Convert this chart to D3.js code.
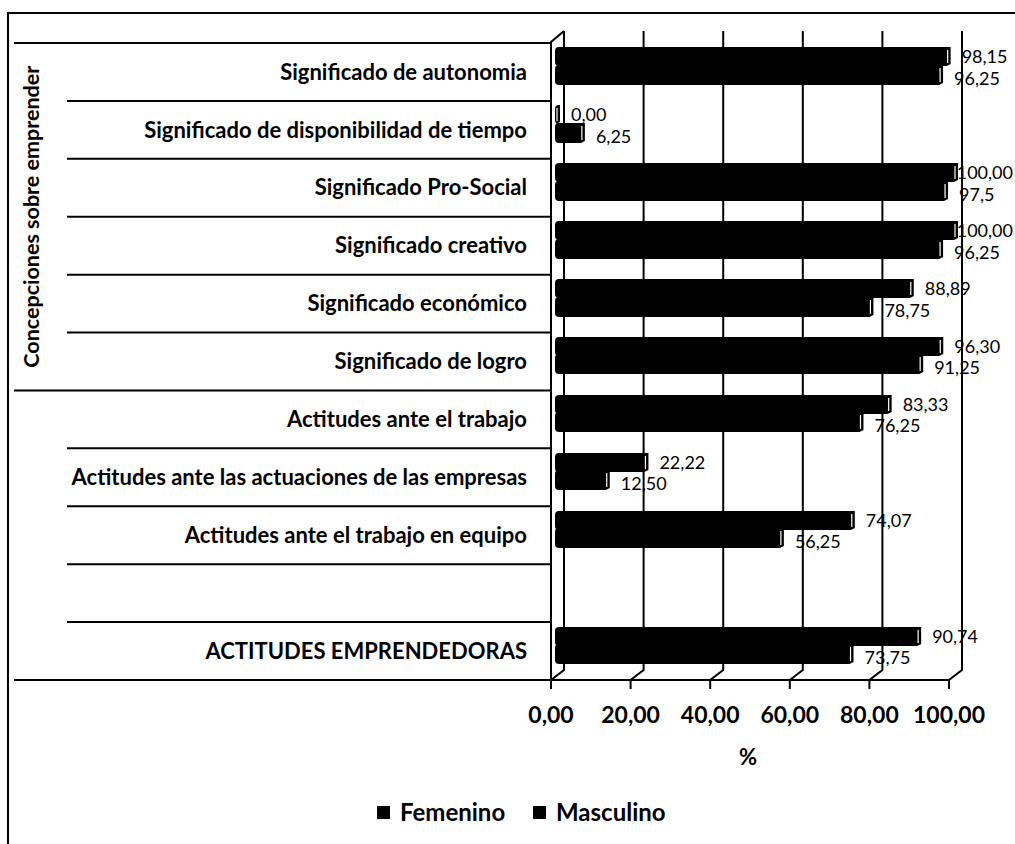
<!DOCTYPE html>
<html>
<head>
<meta charset="utf-8">
<script src="https://cdn.jsdelivr.net/npm/d3@7"></script>
<style>
  html, body { margin: 0; padding: 0; background: #fff; }
  svg { display: block; }
  text { font-family: Lato, "Open Sans", sans-serif; fill: #000; }
</style>
</head>
<body>
<svg id="chart" width="1015" height="844"></svg>
<script>
const categories = [
  "Significado de autonomia",
  "Significado de disponibilidad de tiempo",
  "Significado Pro-Social",
  "Significado creativo",
  "Significado económico",
  "Significado de logro",
  "Actitudes ante el trabajo",
  "Actitudes ante las actuaciones de las empresas",
  "Actitudes ante el trabajo en equipo",
  "",
  "ACTITUDES EMPRENDEDORAS"
];
const femenino  = [98.15, 0.00, 100.00, 100.00, 88.89, 96.30, 83.33, 22.22, 74.07, null, 90.74];
const masculino = [96.25, 6.25, 97.5, 96.25, 78.75, 91.25, 76.25, 12.50, 56.25, null, 73.75];
const femLabels  = ["98,15", "0,00", "100,00", "100,00", "88,89", "96,30", "83,33", "22,22", "74,07", null, "90,74"];
const mascLabels = ["96,25", "6,25", "97,5", "96,25", "78,75", "91,25", "76,25", "12,50", "56,25", null, "73,75"];
const groupNames = ["Concepciones sobre emprender", ""];
const groupStarts = [0, 6];
const groupEnds = [5, 10];
const seriesNames = ["Femenino", "Masculino"];
const xTicks = [0, 20, 40, 60, 80, 100];
const xTitle = "%";

const svg = d3.select("#chart");
const W = 1015;

// outer frame (left & top only visible)
svg.append("path").attr("d", "M8,844 L8,13 L1015,13").attr("fill", "none").attr("stroke", "#000").attr("stroke-width", 2);

const x = d3.scaleLinear().domain([0, 100]).range([551, 949]);
const y = d3.scaleBand().domain(d3.range(categories.length)).range([43, 680]).paddingInner(0);
const depthX = 13, depthY = -10;
const wallTop = 31;
const floorY = 680;

const comma = d3.formatLocale({decimal: ",", thousands: ".", grouping: [3], currency: ["", ""]}).format(".2f");

// back-wall gridlines + floor diagonals + ticks
const grid = svg.append("g").attr("stroke", "#000").attr("stroke-width", 2).attr("fill", "none");
xTicks.forEach(t => {
  const xf = x(t), xb = x(t) + depthX;
  grid.append("path").attr("d", `M${xb},${wallTop} L${xb},${floorY + depthY} L${xf},${floorY} L${xf},${floorY + 9}`);
});
grid.append("path").attr("d", `M${x(0) + depthX},${wallTop} L${x(0)},${y(0) - 1} L${x(0)},${floorY}`);
grid.append("line").attr("x1", x(0)).attr("x2", x(100)).attr("y1", floorY).attr("y2", floorY);

// x axis tick labels
svg.append("g").selectAll("text").data(xTicks).join("text")
  .attr("x", d => x(d)).attr("y", 715).attr("dy", "0.35em")
  .attr("text-anchor", "middle").attr("font-size", 23).attr("font-weight", "bold")
  .text(d => comma(d));
svg.append("text").attr("x", 748).attr("y", 757).attr("dy", "0.35em")
  .attr("text-anchor", "middle").attr("font-size", 22).attr("font-weight", "bold").text(xTitle);

// category table lines
const tbl = svg.append("g").attr("stroke", "#000").attr("stroke-width", 2);
categories.forEach((c, i) => {
  const isGroupStart = groupStarts.includes(i);
  tbl.append("line").attr("x1", isGroupStart ? 14 : 67).attr("x2", x(0))
    .attr("y1", y(i)).attr("y2", y(i));
});
tbl.append("line").attr("x1", 14).attr("x2", x(0)).attr("y1", y.range()[1]).attr("y2", y.range()[1]);

// category labels
svg.append("g").selectAll("text").data(categories).join("text")
  .attr("x", 527).attr("y", (d, i) => y(i) + y.bandwidth() / 2).attr("dy", "0.35em")
  .attr("text-anchor", "end").attr("font-size", 22).attr("font-weight", "bold")
  .text(d => d);

// group labels (rotated)
groupNames.forEach((g, gi) => {
  if (!g) return;
  const yc = (y(groupStarts[gi]) + y(groupEnds[gi]) + y.bandwidth()) / 2;
  svg.append("text").attr("transform", `translate(31,${yc}) rotate(-90)`)
    .attr("text-anchor", "middle").attr("dy", "0.35em")
    .attr("font-size", 21.5).attr("font-weight", "bold").text(g);
});

// bars
const barH = 37;
const sub = d3.scaleBand().domain([0, 1]).range([0, barH]);
const series = [femenino, masculino];
const labelsArr = [femLabels, mascLabels];
const bars = svg.append("g");
const labelG = svg.append("g");
series.forEach((vals, si) => {
  vals.forEach((v, i) => {
    if (v == null) return;
    const top = Math.round(y(i) + y.bandwidth() / 2 - 6 - barH / 2 + sub(si)) - (si === 1 ? 1 : 0);
    const h = Math.round(sub.bandwidth()) + (si === 1 ? 1 : 0);
    const x0 = x(0) + 4;
    const x1 = x(v) + 5;
    const r = 4;
    bars.append("path")
      .attr("d", `M${x0 + r},${top} L${x1 + 4},${top} L${x1 + 4},${top + h - 2} L${x1},${top + h} L${x0 + r},${top + h} Q${x0},${top + h} ${x0},${top + h - r} L${x0},${top + r} Q${x0},${top} ${x0 + r},${top} Z`)
      .attr("fill", "#000");
    bars.append("path")
      .attr("d", `M${x1 + 1},${top + 3} L${x1 + 1},${top + h - 3}`)
      .attr("stroke", "#fff").attr("stroke-width", 1.2).attr("fill", "none");
    const t = labelG.append("text").attr("x", x(v) + 20)
      .attr("y", top + h / 2 + (si === 0 ? 0.5 : 4)).attr("dy", "0.35em")
      .attr("font-size", 18).text(labelsArr[si][i]);
    const tw = t.node().getComputedTextLength();
    if (x(v) + 20 + tw > W - 2) t.attr("x", W - 2 - tw);
  });
});

// legend
const legend = svg.append("g");
const legX = [377, 533];
seriesNames.forEach((s, i) => {
  legend.append("rect").attr("x", legX[i]).attr("y", 806).attr("width", 13).attr("height", 13).attr("fill", "#000");
  legend.append("text").attr("x", legX[i] + 23).attr("y", 813).attr("dy", "0.35em")
    .attr("font-size", 24).attr("font-weight", "bold").text(s);
});
</script>
</body>
</html>
